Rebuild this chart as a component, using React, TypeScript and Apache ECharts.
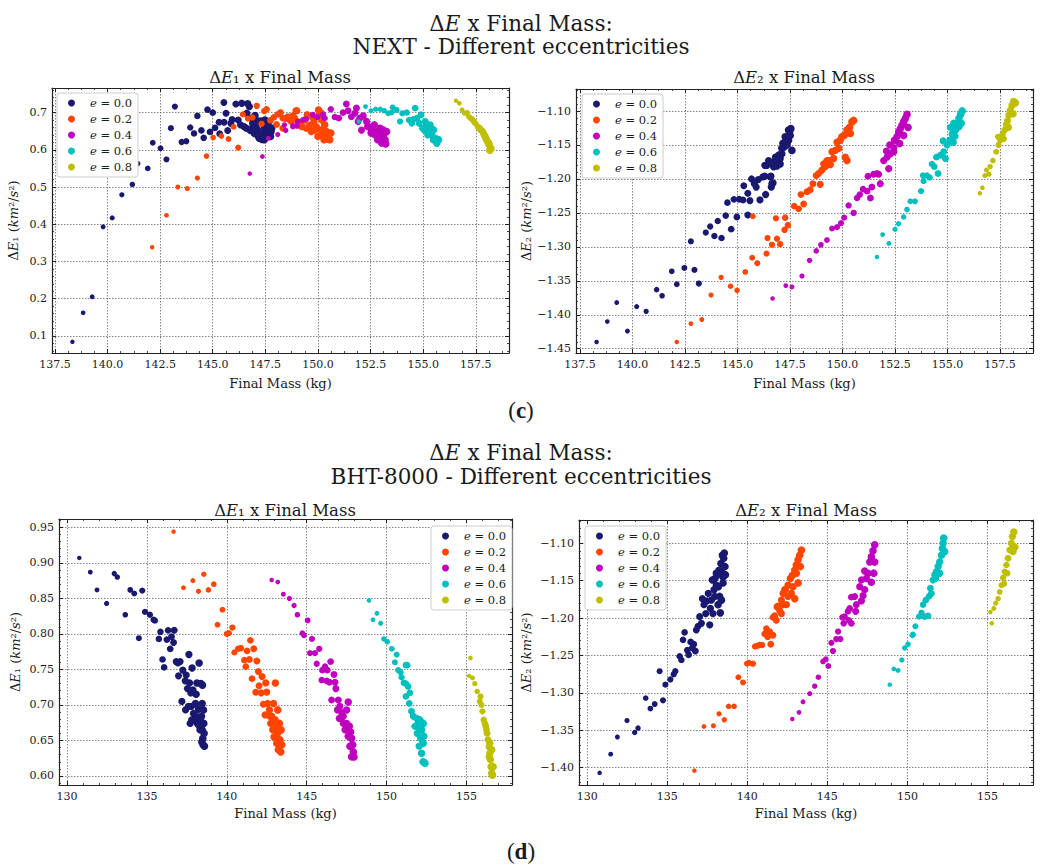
import React, { useEffect, useRef } from 'react';
import * as echarts from 'echarts';

const SERIF = "'DejaVu Serif', serif";
const eccentricities = ['0.0', '0.2', '0.4', '0.6', '0.8'];
const seriesNames = eccentricities.map((e) => `e = ${e}`);
const colors = ['#191970', '#FF4500', '#BF00BF', '#00BFBF', '#BFBF00'];

// ---------- NEXT : ΔE1 vs final mass ----------
const nextE1_e00 = [[138.33,0.084],[138.84,0.162],[139.27,0.205],[139.79,0.393],[140.22,0.417],[140.68,0.479],[141.18,0.507],[141.43,0.563],[141.91,0.550],[142.15,0.619],[142.52,0.604],[142.80,0.574],[143.01,0.658],[143.20,0.716],[143.52,0.621],[143.74,0.623],[143.93,0.660],[144.11,0.644],[144.27,0.691],[144.46,0.652],[144.57,0.632],[144.75,0.708],[144.87,0.648],[145.00,0.700],[145.11,0.659],[145.30,0.674],[145.33,0.643],[145.53,0.727],[145.54,0.674],[145.63,0.698],[145.71,0.652],[145.86,0.671],[145.92,0.681],[146.10,0.723],[146.21,0.680],[146.32,0.667],[146.38,0.725],[146.49,0.662],[146.62,0.698],[146.66,0.724],[146.74,0.716],[146.82,0.685],[146.91,0.662],[147.01,0.692],[147.07,0.667],[147.13,0.653],[147.21,0.631],[147.29,0.677],[147.37,0.646],[147.45,0.662],[147.53,0.640],[147.61,0.653],[147.67,0.676],[147.74,0.636],[147.80,0.658],[146.59,0.658],[146.78,0.652],[146.97,0.644],[147.16,0.637],[147.34,0.628],[147.45,0.627],[147.56,0.649],[147.61,0.667],[147.77,0.649],[146.90,0.671],[147.05,0.680],[147.21,0.676],[147.39,0.671],[147.48,0.680]];
const nextE1_e02 = [[142.12,0.338],[142.80,0.424],[143.34,0.500],[143.79,0.496],[144.27,0.524],[144.70,0.583],[145.02,0.633],[145.41,0.637],[145.75,0.629],[145.99,0.662],[146.21,0.606],[146.43,0.695],[146.67,0.684],[146.89,0.687],[147.09,0.718],[147.32,0.670],[147.45,0.704],[147.56,0.709],[147.74,0.679],[147.90,0.687],[148.03,0.668],[148.09,0.695],[148.22,0.700],[148.33,0.658],[148.44,0.684],[148.57,0.689],[148.66,0.680],[148.81,0.691],[148.95,0.705],[149.04,0.675],[149.16,0.665],[148.33,0.685],[148.73,0.676],[148.89,0.685],[149.00,0.705],[149.13,0.671],[149.24,0.662],[149.36,0.680],[149.49,0.694],[149.60,0.666],[149.71,0.689],[149.81,0.676],[149.92,0.662],[150.03,0.707],[150.08,0.694],[150.13,0.653],[150.19,0.680],[150.24,0.640],[150.32,0.667],[150.40,0.649],[150.48,0.636],[150.56,0.627],[150.61,0.645],[149.84,0.653],[149.68,0.649],[150.00,0.636],[150.29,0.627],[150.45,0.629],[150.16,0.698],[149.44,0.658]];
const nextE1_e04 = [[146.76,0.536],[147.36,0.582],[147.64,0.631],[148.09,0.641],[148.47,0.652],[148.82,0.664],[149.00,0.664],[148.41,0.667],[148.81,0.662],[149.04,0.676],[149.28,0.680],[149.44,0.682],[149.76,0.694],[149.97,0.688],[150.24,0.694],[150.32,0.685],[150.61,0.709],[150.80,0.688],[150.99,0.685],[151.19,0.700],[151.35,0.723],[151.43,0.705],[151.59,0.689],[151.75,0.698],[151.83,0.712],[151.99,0.685],[152.15,0.691],[152.31,0.676],[152.42,0.662],[152.55,0.653],[152.68,0.667],[152.79,0.649],[152.90,0.643],[153.03,0.636],[153.11,0.653],[153.19,0.627],[153.22,0.616],[153.03,0.618],[152.84,0.627],[152.71,0.640],[152.52,0.645],[152.36,0.662],[152.07,0.653],[152.95,0.658],[153.11,0.640],[153.26,0.649],[151.91,0.676]];
const nextE1_e06 = [[151.94,0.676],[152.26,0.716],[152.52,0.705],[152.74,0.709],[152.96,0.709],[153.15,0.705],[153.34,0.698],[153.55,0.714],[153.74,0.707],[153.90,0.676],[154.01,0.698],[154.22,0.700],[154.33,0.680],[154.46,0.671],[154.62,0.712],[154.70,0.685],[154.81,0.671],[154.90,0.694],[154.97,0.658],[155.10,0.676],[155.18,0.662],[155.25,0.649],[155.33,0.667],[155.41,0.640],[155.49,0.653],[155.57,0.631],[155.65,0.618],[155.73,0.627],[155.49,0.627],[155.38,0.658],[155.06,0.653],[155.22,0.640],[154.54,0.682],[153.50,0.700]];
const nextE1_e08 = [[156.56,0.732],[156.72,0.725],[156.85,0.707],[156.97,0.698],[157.09,0.700],[157.17,0.689],[157.33,0.682],[157.48,0.671],[157.61,0.662],[157.74,0.653],[157.83,0.649],[157.90,0.640],[157.98,0.631],[158.06,0.622],[158.14,0.613],[158.22,0.604],[158.17,0.599],[158.01,0.627],[157.86,0.645],[157.69,0.658],[157.41,0.676],[157.25,0.685],[158.11,0.618],[157.95,0.636]];

// ---------- NEXT : ΔE2 vs final mass ----------
const nextE2_e00 = [[138.29,-1.440],[138.80,-1.410],[139.25,-1.382],[139.76,-1.424],[140.20,-1.388],[140.65,-1.395],[141.15,-1.363],[141.41,-1.372],[141.87,-1.336],[142.11,-1.355],[142.47,-1.331],[142.95,-1.334],[143.16,-1.354],[142.78,-1.292],[143.49,-1.279],[143.70,-1.270],[143.90,-1.284],[144.06,-1.262],[144.24,-1.287],[144.44,-1.254],[144.52,-1.235],[144.70,-1.274],[144.83,-1.230],[144.97,-1.256],[145.08,-1.230],[145.26,-1.231],[145.30,-1.210],[145.49,-1.221],[145.49,-1.253],[145.59,-1.232],[145.67,-1.200],[145.80,-1.207],[145.89,-1.212],[145.99,-1.201],[146.07,-1.231],[146.21,-1.197],[146.30,-1.196],[146.34,-1.223],[146.59,-1.196],[146.61,-1.212],[146.69,-1.206],[146.30,-1.180],[146.40,-1.180],[146.53,-1.177],[146.48,-1.173],[146.72,-1.175],[146.88,-1.181],[146.81,-1.168],[146.96,-1.165],[147.11,-1.163],[147.03,-1.170],[147.22,-1.153],[147.35,-1.148],[147.27,-1.138],[147.48,-1.131],[147.43,-1.143],[147.16,-1.148],[146.72,-1.182],[146.88,-1.173],[147.11,-1.155],[147.19,-1.147],[147.43,-1.128],[147.54,-1.126],[147.51,-1.136],[147.35,-1.150],[147.59,-1.158],[147.03,-1.178],[146.64,-1.207],[146.56,-1.197]];
const nextE2_e02 = [[142.11,-1.440],[142.78,-1.413],[143.30,-1.407],[143.74,-1.371],[144.22,-1.345],[144.67,-1.358],[144.98,-1.364],[145.37,-1.337],[145.70,-1.316],[145.94,-1.324],[146.38,-1.310],[146.64,-1.297],[146.43,-1.287],[147.03,-1.296],[146.88,-1.288],[145.73,-1.255],[146.83,-1.258],[147.24,-1.275],[147.40,-1.268],[147.70,-1.240],[147.91,-1.244],[148.15,-1.237],[148.02,-1.223],[148.31,-1.219],[148.46,-1.216],[148.59,-1.207],[148.75,-1.195],[148.94,-1.208],[148.86,-1.192],[149.02,-1.187],[149.18,-1.182],[149.26,-1.173],[149.42,-1.179],[149.58,-1.170],[149.50,-1.160],[149.66,-1.158],[149.82,-1.155],[149.74,-1.146],[149.89,-1.143],[149.97,-1.138],[150.08,-1.136],[150.21,-1.128],[150.34,-1.124],[150.45,-1.116],[150.53,-1.114],[150.37,-1.133],[150.21,-1.173],[150.13,-1.168],[149.34,-1.173],[149.10,-1.178],[147.27,-1.257]];
const nextE2_e04 = [[146.67,-1.376],[147.30,-1.357],[147.59,-1.359],[148.07,-1.343],[148.43,-1.320],[148.75,-1.306],[148.97,-1.297],[149.26,-1.290],[149.50,-1.273],[149.74,-1.271],[149.93,-1.265],[150.08,-1.257],[150.29,-1.239],[150.53,-1.250],[150.69,-1.228],[150.82,-1.223],[150.98,-1.215],[151.17,-1.218],[151.33,-1.228],[151.40,-1.212],[151.21,-1.196],[151.48,-1.193],[151.64,-1.192],[151.80,-1.207],[151.72,-1.193],[151.96,-1.173],[152.12,-1.168],[152.20,-1.185],[152.28,-1.163],[152.09,-1.159],[152.25,-1.150],[152.44,-1.154],[152.47,-1.143],[152.59,-1.138],[152.67,-1.131],[152.75,-1.126],[152.83,-1.121],[152.91,-1.116],[152.99,-1.111],[153.07,-1.105],[153.12,-1.124],[152.91,-1.136],[152.72,-1.148],[152.44,-1.160]];
const nextE2_e06 = [[151.64,-1.315],[152.21,-1.295],[151.91,-1.282],[152.50,-1.274],[152.67,-1.266],[152.91,-1.256],[153.07,-1.245],[153.23,-1.233],[153.45,-1.233],[153.74,-1.218],[153.86,-1.203],[153.83,-1.195],[154.02,-1.195],[154.15,-1.198],[154.26,-1.178],[154.37,-1.182],[154.55,-1.192],[154.47,-1.168],[154.66,-1.165],[154.82,-1.160],[154.90,-1.170],[154.79,-1.144],[154.98,-1.150],[155.11,-1.143],[155.27,-1.146],[155.22,-1.134],[155.38,-1.128],[155.14,-1.124],[155.46,-1.118],[155.54,-1.111],[155.62,-1.105],[155.70,-1.100],[155.65,-1.118],[155.30,-1.118],[155.35,-1.137],[155.54,-1.123]];
const nextE2_e08 = [[156.54,-1.221],[156.66,-1.213],[156.78,-1.195],[156.97,-1.193],[156.85,-1.187],[157.03,-1.182],[157.16,-1.173],[157.32,-1.160],[157.43,-1.150],[157.51,-1.143],[157.62,-1.134],[157.72,-1.128],[157.80,-1.120],[157.86,-1.114],[157.92,-1.106],[157.99,-1.099],[158.07,-1.092],[158.15,-1.086],[158.23,-1.088],[158.12,-1.104],[157.91,-1.124],[157.67,-1.141],[157.40,-1.138]];

// ---------- BHT-8000 : ΔE1 vs final mass ----------
const bhtE1_e00 = [[130.77,0.907],[131.46,0.887],[131.88,0.862],[132.48,0.843],[132.96,0.885],[133.15,0.880],[133.65,0.827],[133.96,0.862],[134.21,0.857],[134.50,0.794],[134.71,0.861],[134.88,0.831],[135.19,0.827],[135.42,0.820],[135.50,0.819],[135.75,0.793],[135.85,0.803],[135.98,0.764],[136.08,0.753],[136.25,0.792],[136.33,0.805],[136.46,0.779],[136.54,0.796],[136.67,0.788],[136.71,0.805],[136.83,0.761],[136.94,0.759],[136.98,0.741],[137.08,0.761],[137.19,0.705],[137.25,0.749],[137.40,0.734],[137.46,0.742],[137.54,0.723],[137.63,0.771],[137.67,0.731],[137.75,0.717],[137.79,0.698],[137.83,0.752],[137.88,0.721],[137.92,0.688],[137.98,0.679],[138.04,0.702],[138.08,0.715],[138.13,0.731],[138.17,0.674],[138.23,0.694],[138.27,0.759],[138.33,0.679],[138.38,0.730],[138.42,0.684],[138.46,0.665],[138.48,0.728],[138.50,0.653],[138.52,0.644],[138.54,0.693],[138.56,0.674],[138.58,0.660],[138.60,0.642],[138.44,0.648],[138.33,0.665],[138.23,0.672],[138.08,0.684],[137.81,0.679],[137.60,0.698],[137.42,0.693],[137.71,0.674],[138.46,0.702]];
const bhtE1_e02 = [[136.67,0.944],[137.29,0.865],[137.88,0.875],[138.23,0.860],[138.56,0.884],[138.85,0.862],[139.19,0.870],[139.42,0.813],[139.73,0.834],[140.00,0.800],[140.13,0.801],[140.35,0.809],[140.48,0.774],[140.71,0.779],[140.88,0.780],[141.10,0.763],[141.19,0.754],[141.27,0.776],[141.42,0.764],[141.48,0.791],[141.58,0.737],[141.69,0.779],[141.81,0.718],[141.88,0.762],[141.98,0.747],[142.02,0.727],[142.15,0.717],[142.21,0.740],[142.29,0.701],[142.40,0.686],[142.44,0.731],[142.50,0.718],[142.56,0.702],[142.67,0.693],[142.75,0.674],[142.81,0.684],[142.88,0.665],[142.92,0.702],[142.96,0.655],[143.04,0.731],[143.08,0.674],[143.13,0.646],[143.17,0.660],[143.23,0.637],[143.29,0.674],[143.33,0.651],[143.38,0.634],[143.25,0.667],[142.71,0.684],[143.02,0.679],[143.19,0.693],[143.40,0.665],[143.44,0.644]];
const bhtE1_e04 = [[142.81,0.876],[143.19,0.873],[143.54,0.856],[143.92,0.850],[144.21,0.840],[144.42,0.827],[144.73,0.801],[144.83,0.798],[145.06,0.819],[145.33,0.793],[145.21,0.773],[145.52,0.773],[145.79,0.779],[145.63,0.758],[145.98,0.749],[146.15,0.754],[146.50,0.761],[146.29,0.749],[145.94,0.735],[146.25,0.734],[146.42,0.732],[146.71,0.743],[146.77,0.732],[146.83,0.723],[146.56,0.707],[146.98,0.707],[147.08,0.698],[147.19,0.689],[147.04,0.681],[147.29,0.684],[147.50,0.674],[147.60,0.704],[147.67,0.670],[147.75,0.662],[147.81,0.653],[147.88,0.644],[147.92,0.634],[147.96,0.627],[147.71,0.642],[147.60,0.656],[147.40,0.665],[147.29,0.674],[147.81,0.627],[146.92,0.693],[147.50,0.693]];
const bhtE1_e06 = [[148.90,0.847],[149.40,0.829],[149.15,0.820],[149.63,0.815],[149.83,0.793],[150.04,0.789],[150.33,0.779],[150.63,0.771],[150.52,0.760],[150.73,0.749],[150.88,0.746],[151.21,0.756],[151.29,0.756],[150.94,0.739],[151.08,0.731],[151.21,0.730],[151.35,0.726],[151.46,0.717],[151.21,0.712],[151.42,0.702],[151.56,0.691],[151.67,0.684],[151.88,0.681],[152.08,0.679],[152.29,0.674],[151.98,0.674],[151.77,0.670],[152.19,0.665],[151.92,0.660],[152.13,0.653],[152.29,0.646],[152.04,0.642],[152.19,0.632],[152.29,0.620],[152.40,0.618],[152.33,0.656],[151.88,0.670]];
const bhtE1_e08 = [[155.25,0.766],[155.17,0.741],[155.38,0.738],[155.52,0.730],[155.67,0.719],[155.83,0.705],[155.94,0.700],[156.00,0.691],[156.08,0.679],[156.21,0.670],[156.29,0.660],[156.35,0.651],[156.42,0.641],[156.46,0.632],[156.50,0.623],[156.54,0.613],[156.58,0.604],[156.63,0.601],[156.46,0.646],[156.25,0.665],[156.15,0.674],[156.42,0.627],[156.58,0.637],[156.67,0.613],[155.88,0.712]];

// ---------- BHT-8000 : ΔE2 vs final mass ----------
const bhtE2_e00 = [[130.77,-1.407],[131.46,-1.382],[131.88,-1.359],[132.48,-1.337],[132.96,-1.353],[133.17,-1.347],[133.65,-1.307],[133.94,-1.321],[134.21,-1.315],[134.52,-1.271],[134.73,-1.310],[134.88,-1.289],[135.19,-1.282],[135.40,-1.275],[135.50,-1.271],[135.77,-1.251],[135.88,-1.256],[135.98,-1.229],[136.08,-1.219],[136.25,-1.243],[136.33,-1.249],[136.46,-1.232],[136.56,-1.240],[136.65,-1.235],[136.75,-1.244],[136.81,-1.216],[136.92,-1.211],[137.02,-1.198],[137.13,-1.207],[137.19,-1.174],[137.29,-1.182],[137.40,-1.194],[137.48,-1.177],[137.56,-1.167],[137.65,-1.209],[137.69,-1.187],[137.75,-1.176],[137.81,-1.149],[137.85,-1.194],[137.92,-1.162],[137.98,-1.147],[138.06,-1.156],[138.13,-1.142],[138.19,-1.158],[138.23,-1.136],[138.27,-1.171],[138.31,-1.193],[138.35,-1.127],[138.40,-1.139],[138.44,-1.116],[138.48,-1.145],[138.52,-1.120],[138.56,-1.113],[138.60,-1.131],[138.63,-1.142],[138.38,-1.176],[138.17,-1.182],[137.96,-1.171],[138.48,-1.153],[138.06,-1.140]];
const bhtE2_e02 = [[136.69,-1.404],[137.29,-1.345],[137.88,-1.344],[138.23,-1.328],[138.56,-1.336],[138.83,-1.318],[139.17,-1.318],[139.44,-1.279],[139.73,-1.286],[139.98,-1.261],[140.10,-1.260],[140.35,-1.261],[140.48,-1.238],[140.63,-1.237],[140.77,-1.236],[140.92,-1.236],[141.08,-1.221],[141.19,-1.214],[141.27,-1.225],[141.40,-1.218],[141.46,-1.235],[141.60,-1.223],[141.60,-1.199],[141.81,-1.203],[141.92,-1.184],[142.02,-1.190],[142.13,-1.176],[142.23,-1.182],[142.38,-1.162],[141.71,-1.197],[141.85,-1.185],[142.23,-1.167],[142.44,-1.182],[142.33,-1.162],[142.54,-1.171],[142.54,-1.156],[142.69,-1.147],[142.85,-1.158],[142.96,-1.174],[142.81,-1.143],[142.96,-1.136],[143.06,-1.129],[143.17,-1.122],[143.27,-1.116],[143.38,-1.109],[143.31,-1.131],[143.17,-1.153],[143.06,-1.140],[142.75,-1.167],[142.13,-1.194]];
const bhtE2_e04 = [[142.81,-1.335],[143.23,-1.326],[143.48,-1.312],[143.90,-1.301],[144.21,-1.291],[144.44,-1.279],[144.73,-1.258],[144.90,-1.255],[145.06,-1.264],[145.35,-1.244],[145.25,-1.233],[145.56,-1.228],[145.81,-1.228],[145.67,-1.218],[146.02,-1.207],[146.35,-1.203],[146.50,-1.207],[146.08,-1.198],[145.94,-1.199],[146.29,-1.191],[146.40,-1.187],[146.77,-1.191],[146.81,-1.182],[146.50,-1.172],[146.71,-1.171],[147.13,-1.177],[147.23,-1.170],[147.02,-1.158],[147.13,-1.149],[147.33,-1.162],[147.44,-1.147],[147.33,-1.137],[147.54,-1.140],[147.65,-1.125],[147.75,-1.118],[147.85,-1.110],[147.96,-1.102],[147.90,-1.140],[147.96,-1.125],[147.75,-1.152]];
const bhtE2_e06 = [[148.90,-1.289],[149.15,-1.268],[149.42,-1.270],[149.65,-1.256],[149.83,-1.240],[150.04,-1.235],[150.31,-1.223],[150.50,-1.211],[150.35,-1.222],[150.73,-1.198],[150.88,-1.193],[151.08,-1.198],[151.29,-1.197],[150.98,-1.182],[151.15,-1.176],[151.35,-1.171],[151.50,-1.167],[151.44,-1.160],[151.60,-1.149],[151.71,-1.142],[151.81,-1.138],[151.92,-1.131],[152.02,-1.125],[152.13,-1.116],[152.19,-1.107],[152.27,-1.093],[152.23,-1.100],[152.33,-1.111],[152.02,-1.140],[151.77,-1.147]];
const bhtE2_e08 = [[155.27,-1.207],[155.19,-1.192],[155.40,-1.187],[155.52,-1.180],[155.67,-1.174],[155.77,-1.165],[155.88,-1.156],[155.98,-1.146],[156.08,-1.138],[156.19,-1.129],[156.29,-1.120],[156.40,-1.109],[156.50,-1.100],[156.56,-1.091],[156.65,-1.085],[156.71,-1.105],[156.60,-1.111],[156.23,-1.140],[156.04,-1.154]];

const xAxisName = 'Final Mass (kg)';

const panels = [
  { data: [nextE1_e00, nextE1_e02, nextE1_e04, nextE1_e06, nextE1_e08], sub: '1',
    grid: { left: 52, top: 88, width: 457, height: 265 },
    x: { min: 137.36, max: 159.08, step: 2.5, dec: 1, minor: 4, gap: 24 },
    y: { min: 0.054, max: 0.766, step: 0.1, dec: 1, minor: 5, gap: 32 },
    legend: { left: 57, top: 93 } },
  { data: [nextE2_e00, nextE2_e02, nextE2_e04, nextE2_e06, nextE2_e08], sub: '2',
    grid: { left: 576, top: 89, width: 457, height: 264 },
    x: { min: 137.31, max: 159.07, step: 2.5, dec: 1, minor: 4, gap: 24 },
    y: { min: -1.4563, max: -1.0676, step: 0.05, dec: 2, minor: 5, gap: 43 },
    legend: { left: 582, top: 94 } },
  { data: [bhtE1_e00, bhtE1_e02, bhtE1_e04, bhtE1_e06, bhtE1_e08], sub: '1',
    grid: { left: 59, top: 519, width: 453, height: 266 },
    x: { min: 129.5, max: 157.85, step: 5, dec: 0, minor: 5, gap: 22 },
    y: { min: 0.5873, max: 0.9618, step: 0.05, dec: 2, minor: 5, gap: 37 },
    legend: { left: 431, top: 526 } },
  { data: [bhtE2_e00, bhtE2_e02, bhtE2_e04, bhtE2_e06, bhtE2_e08], sub: '2',
    grid: { left: 579, top: 520, width: 454, height: 265 },
    x: { min: 129.48, max: 157.85, step: 5, dec: 0, minor: 5, gap: 22 },
    y: { min: -1.4232, max: -1.0688, step: 0.05, dec: 2, minor: 5, gap: 46 },
    legend: { left: 585, top: 526 } },
];

const tickFmt = (step: number, dec: number) => (v: number) => {
  const k = v / step;
  if (Math.abs(k - Math.round(k)) > 1e-6) return '';
  return v.toFixed(dec).replace('-', '\u2212');
};

const ink = '#1a1a1a';
const italic = { fontStyle: 'italic', fontFamily: SERIF, fontSize: 13, color: ink };

function makeAxis(kind: 'x' | 'y', p: any, gi: number, mirror: boolean) {
  const a = kind === 'x' ? p.x : p.y;
  const main = !mirror;
  return {
    type: 'value',
    gridIndex: gi,
    position: kind === 'x' ? (mirror ? 'top' : 'bottom') : (mirror ? 'right' : 'left'),
    min: a.min,
    max: a.max,
    minInterval: a.step,
    maxInterval: a.step,
    name: main ? (kind === 'x' ? xAxisName : `Δ{i|E}${p.sub === '1' ? '₁' : '₂'} ({i|km}²/{i|s}²)`) : '',
    nameLocation: 'middle',
    nameGap: a.gap,
    nameTextStyle: { fontFamily: SERIF, fontSize: 13, color: ink, rich: { i: italic } },
    axisLine: { show: true, onZero: false, lineStyle: { color: '#222', width: 1.2 } },
    axisTick: { show: true, inside: true, length: 4, lineStyle: { color: '#222', width: 1 } },
    minorTick: { show: true, splitNumber: a.minor, length: 2, lineStyle: { color: '#222', width: 0.8 } },
    axisLabel: {
      show: main, margin: kind === 'x' ? 6 : 5, fontFamily: SERIF, fontSize: 11, color: ink,
      formatter: tickFmt(a.step, a.dec),
    },
    splitLine: { show: main, lineStyle: { color: '#666', type: [1.5, 1.5], width: 0.8 } },
  };
}

const App: React.FC = () => {
  const ref = useRef<HTMLDivElement>(null);
  useEffect(() => {
    if (!ref.current) return;
    const chart = echarts.init(ref.current, undefined, { renderer: 'svg' });

    const grids = panels.map((p) => ({ ...p.grid, containLabel: false, show: false }));
    const xAxes: any[] = [];
    const yAxes: any[] = [];
    panels.forEach((p, i) => { xAxes.push(makeAxis('x', p, i, false)); yAxes.push(makeAxis('y', p, i, false)); });
    panels.forEach((p, i) => { xAxes.push(makeAxis('x', p, i, true)); yAxes.push(makeAxis('y', p, i, true)); });

    const series: any[] = [];
    panels.forEach((p, gi) => {
      p.data.forEach((d, si) => {
        const xs = d.map((q) => q[0]);
        const lo = Math.min(...xs);
        const hi = Math.max(...xs);
        series.push({
          type: 'scatter',
          name: seriesNames[si],
          xAxisIndex: gi,
          yAxisIndex: gi,
          data: d,
          symbol: 'circle',
          symbolSize: (v: number[]) => 4.5 + 3.2 * (hi > lo ? (v[0] - lo) / (hi - lo) : 1),
          itemStyle: { color: colors[si], opacity: 1 },
          emphasis: { disabled: true },
          z: 2,
        });
      });
    });

    const legends = panels.map((p) => ({
      left: p.legend.left,
      top: p.legend.top,
      orient: 'vertical',
      data: seriesNames,
      icon: 'circle',
      itemWidth: 7,
      itemHeight: 7,
      itemGap: 4,
      padding: [4, 6, 4, 11],
      backgroundColor: '#ffffff',
      borderColor: '#cccccc',
      borderWidth: 1,
      borderRadius: 3,
      selectedMode: false,
      formatter: (name: string) => `{g|}{i|e} = ${name.slice(4)}`,
      textStyle: {
        fontFamily: SERIF, fontSize: 11.5, color: ink, lineHeight: 12,
        rich: { g: { width: 10 }, i: { fontStyle: 'italic', fontFamily: SERIF, fontSize: 11.5, color: ink } },
      },
    }));

    const txt = (text: string, x: number, y: number, size: number) => ({
      type: 'text',
      x, y,
      silent: true,
      style: {
        text, align: 'center', verticalAlign: 'middle', fontFamily: SERIF, fontSize: size, fill: ink,
        rich: { i: { fontStyle: 'italic', fontFamily: SERIF, fontSize: size, fill: ink } },
      },
    });
    const tag = (letter: string, y: number) => ({
      type: 'text', x: 521, y, silent: true,
      style: {
        text: `({b|${letter}})`, align: 'center', verticalAlign: 'middle',
        fontFamily: "'Liberation Serif', serif", fontSize: 23, fill: ink,
        rich: { b: { fontWeight: 'bold', fontFamily: "'Liberation Serif', serif", fontSize: 23, fill: ink } },
      },
    });

    const graphic: any[] = [
      txt('Δ{i|E} x Final Mass:', 521, 23, 21.5),
      txt('NEXT - Different eccentricities', 521, 46, 21.5),
      txt('Δ{i|E}₁ x Final Mass', 280, 77, 16.5),
      txt('Δ{i|E}₂ x Final Mass', 804, 77, 16.5),
      tag('c', 410),
      txt('Δ{i|E} x Final Mass:', 521, 452, 21.5),
      txt('BHT-8000 - Different eccentricities', 521, 476, 21.5),
      txt('Δ{i|E}₁ x Final Mass', 285, 510, 16.5),
      txt('Δ{i|E}₂ x Final Mass', 806, 510, 16.5),
      tag('d', 851),
    ];

    chart.setOption({
      animation: false,
      backgroundColor: '#ffffff',
      textStyle: { fontFamily: SERIF },
      grid: grids,
      xAxis: xAxes,
      yAxis: yAxes,
      legend: legends,
      series,
      graphic,
    });
    return () => chart.dispose();
  }, []);
  return <div ref={ref} style={{ position: 'absolute', left: 0, top: 0, width: 1043, height: 865 }} />;
};

export default App;
